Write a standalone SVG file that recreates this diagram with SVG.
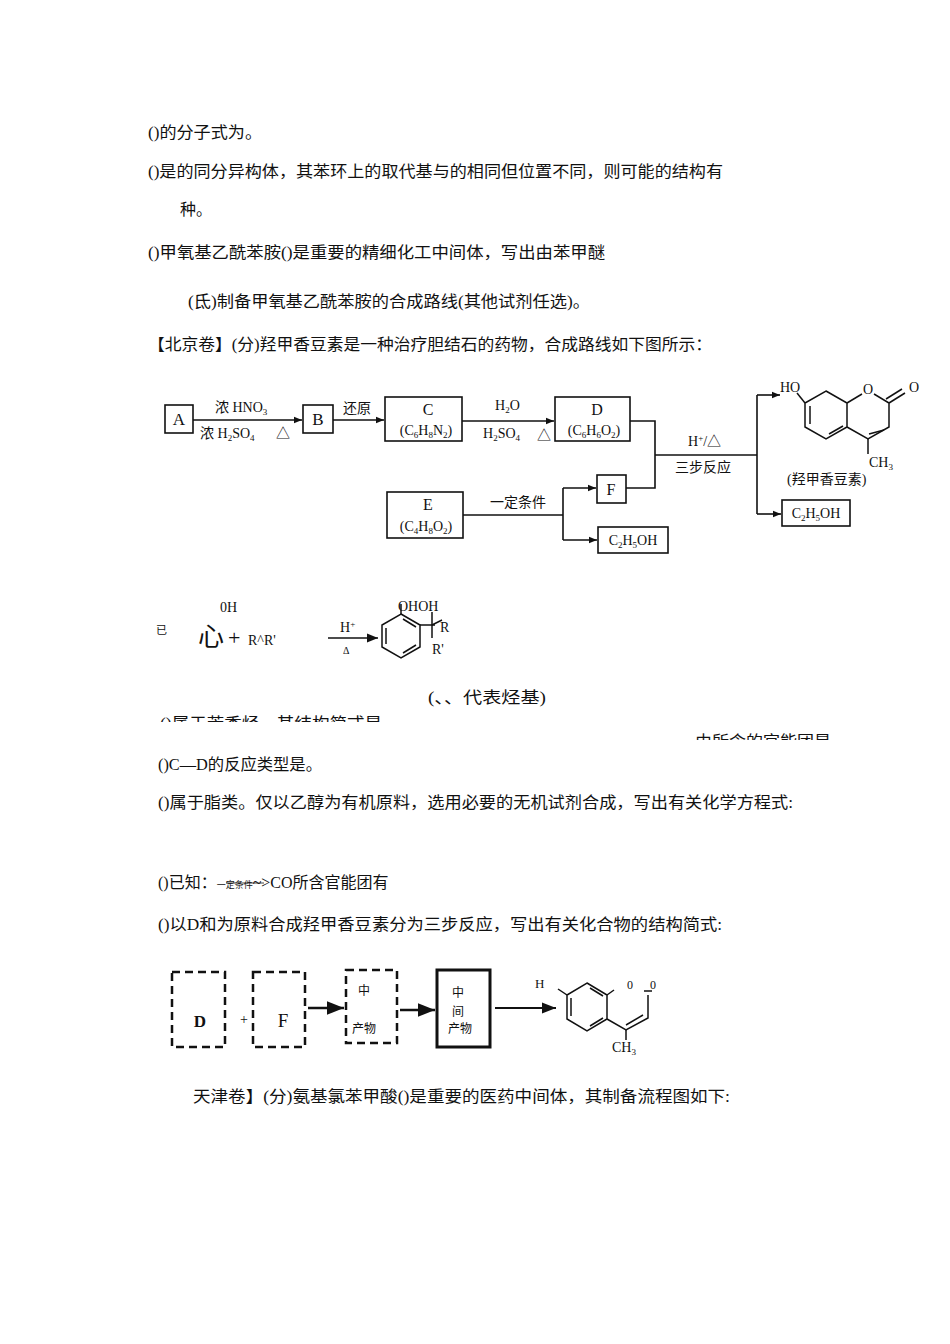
<svg xmlns="http://www.w3.org/2000/svg" width="950" height="1344" viewBox="0 0 950 1344">
<defs>
<marker id="ah" viewBox="0 0 10 10" refX="10" refY="5" markerWidth="7" markerHeight="7" orient="auto"><path d="M0,1 L10,5 L0,9 z" fill="#111"/></marker>
<marker id="ah2" viewBox="0 0 10 10" refX="10" refY="5" markerWidth="5" markerHeight="5" orient="auto"><path d="M0,1 L10,5 L0,9 z" fill="#111"/></marker>
<clipPath id="c1"><rect x="0" y="700" width="950" height="22"/></clipPath>
<clipPath id="c2"><rect x="0" y="720" width="950" height="20"/></clipPath>
</defs>
<style>
text{font-family:"Liberation Serif","Noto Sans CJK SC",serif;fill:#111}
.t{font-size:16px}
.s{font-size:14px}
.sm{font-size:9px}
.box{fill:none;stroke:#111;stroke-width:1.6}
.dash{fill:none;stroke:#111;stroke-width:2.5;stroke-dasharray:8 5}
.ln{stroke:#111;stroke-width:1.6;fill:none}
.b{stroke:#111;stroke-width:1.5;fill:none}
</style>
<rect width="950" height="1344" fill="#fff"/>
<g id="text-top">
<text class="t" x="148" y="138" textLength="114" lengthAdjust="spacingAndGlyphs">()的分子式为。</text>
<text class="t" x="148" y="177" textLength="575" lengthAdjust="spacingAndGlyphs">()是的同分异构体，其苯环上的取代基与的相同但位置不同，则可能的结构有</text>
<text class="t" x="180" y="215">种。</text>
<text class="t" x="148" y="258" textLength="457" lengthAdjust="spacingAndGlyphs">()甲氧基乙酰苯胺()是重要的精细化工中间体，写出由苯甲醚</text>
<text class="t" x="188" y="307" textLength="402" lengthAdjust="spacingAndGlyphs">(氐)制备甲氧基乙酰苯胺的合成路线(其他试剂任选)。</text>
<text class="t" x="148" y="350" textLength="564" lengthAdjust="spacingAndGlyphs">【北京卷】(分)羟甲香豆素是一种治疗胆结石的药物，合成路线如下图所示：</text>
</g>
<g id="nodeA"><rect class="box" x="165" y="405" width="28" height="28"/><text x="179" y="425" text-anchor="middle" font-size="17">A</text></g>
<g id="nodeB"><rect class="box" x="303" y="405" width="30" height="28"/><text x="318" y="425" text-anchor="middle" font-size="17">B</text></g>
<g id="nodeC"><rect class="box" x="385" y="397" width="77" height="44"/><text x="428" y="415" text-anchor="middle" font-size="16">C</text><text class="s" x="426" y="435" text-anchor="middle">(C<tspan class="sm" dy="3">6</tspan><tspan dy="-3">H</tspan><tspan class="sm" dy="3">8</tspan><tspan dy="-3">N</tspan><tspan class="sm" dy="3">2</tspan><tspan dy="-3">)</tspan></text></g>
<g id="nodeD"><rect class="box" x="555" y="397" width="75" height="44"/><text x="597" y="415" text-anchor="middle" font-size="16">D</text><text class="s" x="594" y="435" text-anchor="middle">(C<tspan class="sm" dy="3">6</tspan><tspan dy="-3">H</tspan><tspan class="sm" dy="3">6</tspan><tspan dy="-3">O</tspan><tspan class="sm" dy="3">2</tspan><tspan dy="-3">)</tspan></text></g>
<g id="nodeE"><rect class="box" x="387" y="492" width="76" height="46"/><text x="428" y="510" text-anchor="middle" font-size="16">E</text><text class="s" x="426" y="531" text-anchor="middle">(C<tspan class="sm" dy="3">4</tspan><tspan dy="-3">H</tspan><tspan class="sm" dy="3">8</tspan><tspan dy="-3">O</tspan><tspan class="sm" dy="3">2</tspan><tspan dy="-3">)</tspan></text></g>
<g id="nodeF"><rect class="box" x="597" y="475" width="29" height="28"/><text x="611" y="495" text-anchor="middle" font-size="16">F</text></g>
<g id="nodeEt1"><rect class="box" x="598" y="527" width="70" height="26"/><text class="s" x="633" y="545" text-anchor="middle">C<tspan class="sm" dy="3">2</tspan><tspan dy="-3">H</tspan><tspan class="sm" dy="3">5</tspan><tspan dy="-3">OH</tspan></text></g>
<g id="nodeEt2"><rect class="box" x="782" y="500" width="68" height="26"/><text class="s" x="816" y="518" text-anchor="middle">C<tspan class="sm" dy="3">2</tspan><tspan dy="-3">H</tspan><tspan class="sm" dy="3">5</tspan><tspan dy="-3">OH</tspan></text></g>
<g id="coumarin">
<polygon class="b" points="826,391 847,403 847,427 826,439 805,427 805,403"/>
<line class="b" x1="810" y1="406" x2="810" y2="424"/><line class="b" x1="829" y1="434" x2="843" y2="426"/>
<line class="b" x1="847" y1="403" x2="862" y2="394"/>
<polyline class="b" points="874,394 889,403 889,427 868,439 847,427"/>
<line class="b" x1="884" y1="430" x2="869" y2="434"/>
<line class="b" x1="889" y1="403" x2="905" y2="393"/><line class="b" x1="886" y1="399" x2="902" y2="389"/>
<line class="b" x1="868" y1="439" x2="868" y2="454"/>
<line class="b" x1="805" y1="403" x2="797" y2="393"/>
<text class="s" x="780" y="392">HO</text><text class="s" x="863" y="394">O</text><text class="s" x="909" y="392">O</text>
<text class="s" x="869" y="467">CH<tspan class="sm" dy="3">3</tspan></text>
<text class="s" x="787" y="484">(羟甲香豆素)</text>
</g>
<g id="connectors">
<line class="ln" x1="193" y1="420" x2="302" y2="420" marker-end="url(#ah2)"/>
<line class="ln" x1="333" y1="420" x2="384" y2="420" marker-end="url(#ah2)"/>
<line class="ln" x1="462" y1="421" x2="554" y2="421" marker-end="url(#ah2)"/>
<polyline class="ln" points="630,421 655,421 655,488 626,488"/>
<line class="ln" x1="655" y1="455" x2="757" y2="455"/>
<line class="ln" x1="757" y1="395" x2="757" y2="514"/>
<line class="ln" x1="757" y1="395" x2="780" y2="395" marker-end="url(#ah2)"/>
<line class="ln" x1="757" y1="514" x2="781" y2="514" marker-end="url(#ah2)"/>
<line class="ln" x1="463" y1="515" x2="563" y2="515"/>
<line class="ln" x1="563" y1="488" x2="563" y2="540"/>
<line class="ln" x1="563" y1="488" x2="596" y2="488" marker-end="url(#ah2)"/>
<line class="ln" x1="563" y1="540" x2="597" y2="540" marker-end="url(#ah2)"/>
<text class="s" x="215" y="412">浓 HNO<tspan class="sm" dy="3">3</tspan></text>
<text class="s" x="200" y="438">浓 H<tspan class="sm" dy="3">2</tspan><tspan dy="-3">SO</tspan><tspan class="sm" dy="3">4</tspan></text>
<text class="s" x="276" y="438">△</text>
<text class="s" x="343" y="413">还原</text>
<text class="s" x="495" y="410">H<tspan class="sm" dy="3">2</tspan><tspan dy="-3">O</tspan></text>
<text class="s" x="483" y="438">H<tspan class="sm" dy="3">2</tspan><tspan dy="-3">SO</tspan><tspan class="sm" dy="3">4</tspan></text>
<text class="s" x="537" y="440">△</text>
<text class="s" x="688" y="446">H<tspan class="sm" dy="-5">+</tspan><tspan dy="5">/△</tspan></text>
<text class="s" x="675" y="472">三步反应</text>
<text class="s" x="490" y="507">一定条件</text>
</g>
<g id="known">
<text x="156" y="634" font-size="11">已</text>
<text x="220" y="612" font-size="14" font-family="DejaVu Sans Mono">0H</text>
<text x="198" y="646" font-size="26" font-family="Noto Sans CJK SC">心</text>
<text x="228" y="645" font-size="22" font-family="Noto Sans CJK SC">+</text>
<text x="248" y="645" class="s">R^R'</text>
<line class="ln" x1="328" y1="638" x2="378" y2="638" marker-end="url(#ah)"/>
<text x="340" y="632" class="s">H<tspan class="sm" dy="-5">+</tspan></text>
<text x="343" y="654" font-size="10">Δ</text>
<polygon class="b" points="401,614 420,625 420,647 401,658 382,647 382,625"/>
<line class="b" x1="386" y1="628" x2="386" y2="644"/><line class="b" x1="403" y1="653" x2="416" y2="645"/><line class="b" x1="403" y1="619" x2="416" y2="627"/>
<line class="b" x1="401" y1="614" x2="401" y2="604"/><line class="b" x1="420" y1="625" x2="435" y2="625"/><line class="b" x1="432" y1="612" x2="432" y2="638"/>
<line class="b" x1="432" y1="625" x2="442" y2="620"/>
<text x="398" y="611" class="s">OHOH</text>
<text x="440" y="632" class="s">R</text><text x="432" y="654" class="s">R'</text>
<text class="t" x="428" y="703" textLength="118" lengthAdjust="spacingAndGlyphs">(、、代表烃基)</text>
<text class="t" x="160" y="729" clip-path="url(#c1)" textLength="222" lengthAdjust="spacingAndGlyphs">()属于芳香烃，其结构简式是</text>
<text class="t" x="695" y="747" clip-path="url(#c2)" textLength="136" lengthAdjust="spacingAndGlyphs">由所含的官能团是</text>
</g>
<g id="text-mid">
<text class="t" x="158" y="770" textLength="164" lengthAdjust="spacingAndGlyphs">()C—D的反应类型是。</text>
<text class="t" x="158" y="808" textLength="635" lengthAdjust="spacingAndGlyphs">()属于脂类。仅以乙醇为有机原料，选用必要的无机试剂合成，写出有关化学方程式:</text>
<text class="t" x="158" y="888">()已知：<tspan font-size="9">一定条件</tspan>~&gt;CO所含官能团有</text>
<line x1="226" y1="883" x2="264" y2="883" stroke="#111" stroke-width="0.8"/>
<text class="t" x="158" y="930" textLength="564" lengthAdjust="spacingAndGlyphs">()以D和为原料合成羟甲香豆素分为三步反应，写出有关化合物的结构简式:</text>
</g>
<g id="flowD"><rect class="dash" x="172" y="972" width="53" height="75"/><text x="200" y="1027" font-size="17" text-anchor="middle" font-weight="bold">D</text></g>
<text x="240" y="1024" font-size="14">+</text>
<g id="flowF"><rect class="dash" x="253" y="972" width="52" height="75"/><text x="283" y="1027" font-size="19" text-anchor="middle">F</text></g>
<g id="flowM1"><rect class="dash" x="346" y="970" width="51" height="73"/><text x="358" y="995" font-size="12">中</text><text x="352" y="1033" font-size="12">产物</text></g>
<g id="flowM2"><rect x="437" y="970" width="53" height="77" fill="none" stroke="#111" stroke-width="3"/><text x="452" y="997" font-size="12">中</text><text x="452" y="1016" font-size="12">间</text><text x="448" y="1033" font-size="12">产物</text></g>
<g id="flowProduct">
<polygon class="b" points="587,983 607,995 607,1019 587,1031 567,1019 567,995"/>
<line class="b" x1="571" y1="998" x2="571" y2="1016"/><line class="b" x1="590" y1="988" x2="603" y2="996"/><line class="b" x1="590" y1="1026" x2="603" y2="1018"/>
<line class="b" x1="567" y1="995" x2="558" y2="989"/><line class="b" x1="607" y1="995" x2="614" y2="990"/>
<polyline class="b" points="607,1019 626,1030 648,1018 648,995"/><line class="b" x1="626" y1="1025" x2="643" y2="1015"/>
<line class="b" x1="626" y1="1030" x2="626" y2="1040"/>
<path class="b" d="M644,991 L652,991"/>
<text x="535" y="988" font-size="13">H</text><text x="627" y="989" font-size="12">0</text><text x="650" y="989" font-size="12">0</text>
<text x="612" y="1052" font-size="14">CH<tspan class="sm" dy="3">3</tspan></text>
</g>
<g id="flow-connectors">
<line x1="308" y1="1008" x2="344" y2="1008" stroke="#111" stroke-width="2.5" marker-end="url(#ah)"/>
<line x1="400" y1="1010" x2="435" y2="1010" stroke="#111" stroke-width="2.5" marker-end="url(#ah)"/>
<line x1="495" y1="1008" x2="556" y2="1008" stroke="#111" stroke-width="2" marker-end="url(#ah)"/>
</g>
<text class="t" x="193" y="1102" textLength="537" lengthAdjust="spacingAndGlyphs">天津卷】(分)氨基氯苯甲酸()是重要的医药中间体，其制备流程图如下:</text>
</svg>
